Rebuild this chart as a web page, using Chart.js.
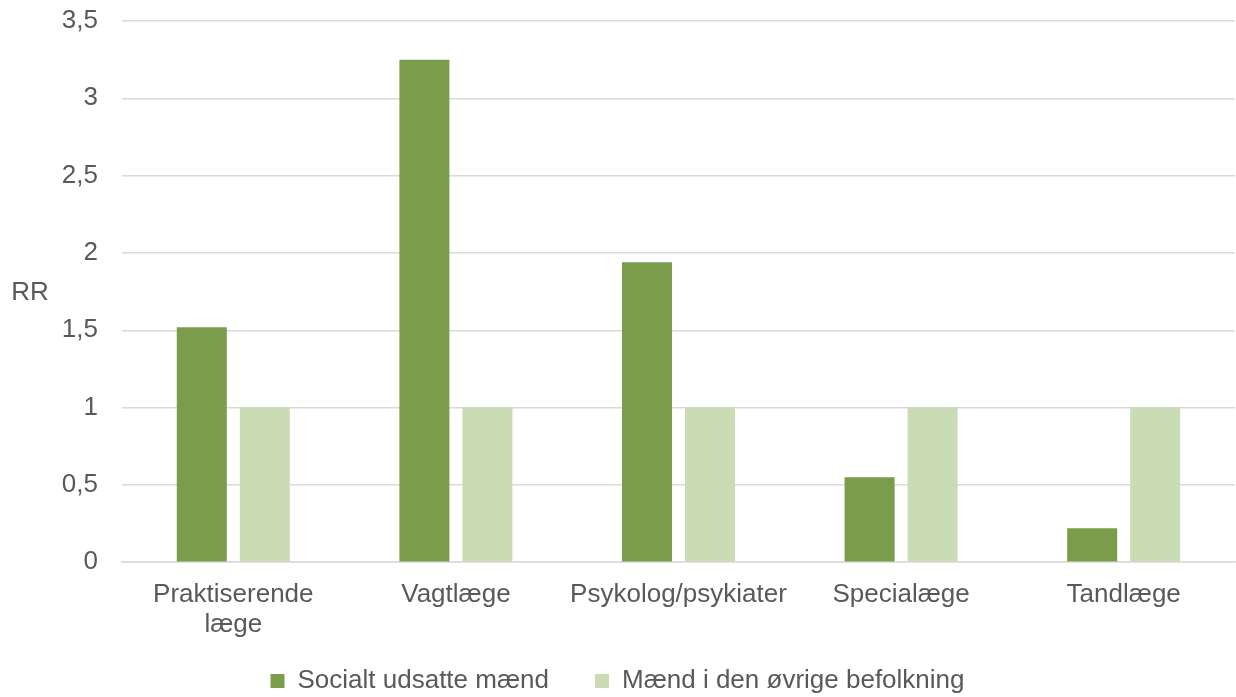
<!DOCTYPE html>
<html><head><meta charset="utf-8">
<script src="https://cdn.jsdelivr.net/npm/chart.js@4/dist/chart.umd.min.js"></script>
<style>html,body{margin:0;padding:0;background:#fff}#wrap{width:1236px;height:697px}</style>
</head><body><div id="wrap"><canvas id="c" width="1236" height="697"></canvas></div>
<script>
const categories = [["Praktiserende","læge"], "Vagtlæge", "Psykolog/psykiater", "Specialæge", "Tandlæge"];
const socialtUdsatte = [1.52, 3.25, 1.94, 0.55, 0.22];
const oevrigeBefolkning = [1, 1, 1, 1, 1];
const seriesNames = ["Socialt udsatte mænd", "Mænd i den øvrige befolkning"];
const yTicks = [0, 0.5, 1, 1.5, 2, 2.5, 3, 3.5];
const yTitle = "RR";

const FONT = "'Liberation Sans', Arial, sans-serif";
const FS = 26;
const TXT = "#595959";

const rrPlugin = {
  id: 'rr',
  afterInit(chart) {
    const lg = chart.legend;
    if (lg) {
      const origFit = lg.fit.bind(lg);
      lg.fit = function () { origFit(); this.height = 47; };
    }
  },
  afterLayout(chart) {
    const lg = chart.legend;
    if (lg) {
      lg.top = 622;
      lg.bottom = 697;
    }
  },
  afterDraw(chart) {
    const ctx = chart.ctx;
    ctx.save();
    ctx.font = FS + "px " + FONT;
    ctx.fillStyle = TXT;
    ctx.textAlign = "center";
    ctx.textBaseline = "middle";
    ctx.fillText(yTitle, 30, 293);
    ctx.restore();
  }
};

new Chart(document.getElementById('c'), {
  type: 'bar',
  data: {
    labels: categories,
    datasets: [
      { label: seriesNames[0], data: socialtUdsatte, backgroundColor: '#799d4a' },
      { label: seriesNames[1], data: oevrigeBefolkning, backgroundColor: '#cadcb3' }
    ]
  },
  options: {
    responsive: false,
    animation: false,
    devicePixelRatio: 1,
    layout: { padding: { top: 21, right: 1, left: 0, bottom: 0 } },
    datasets: { bar: { categoryPercentage: 0.566, barPercentage: 0.794 } },
    plugins: {
      tooltip: { enabled: false },
      legend: {
        position: 'bottom',
        labels: {
          font: { family: FONT, size: FS },
          color: TXT,
          boxWidth: 14, boxHeight: 14,
          padding: 46
        }
      }
    },
    scales: {
      x: {
        grid: { display: false },
        border: { display: true, color: '#d9d9d9', width: 1.5 },
        ticks: { font: { family: FONT, size: FS, lineHeight: 1.15 }, color: TXT, padding: 10, maxRotation: 0, autoSkip: false }
      },
      y: {
        min: 0, max: 3.5,
        afterFit(scale) { scale.width = 122; scale.paddingTop = 0; scale.paddingBottom = 0; },
        afterBuildTicks(scale) { scale.ticks = yTicks.map(v => ({ value: v })); },
        grid: { color: '#d9d9d9', lineWidth: 1.5, drawTicks: false },
        border: { display: false },
        ticks: {
          font: { family: FONT, size: FS }, color: TXT, padding: 24,
          callback: v => String(v).replace('.', ',')
        }
      }
    }
  },
  plugins: [rrPlugin]
});
</script>
</body></html>
